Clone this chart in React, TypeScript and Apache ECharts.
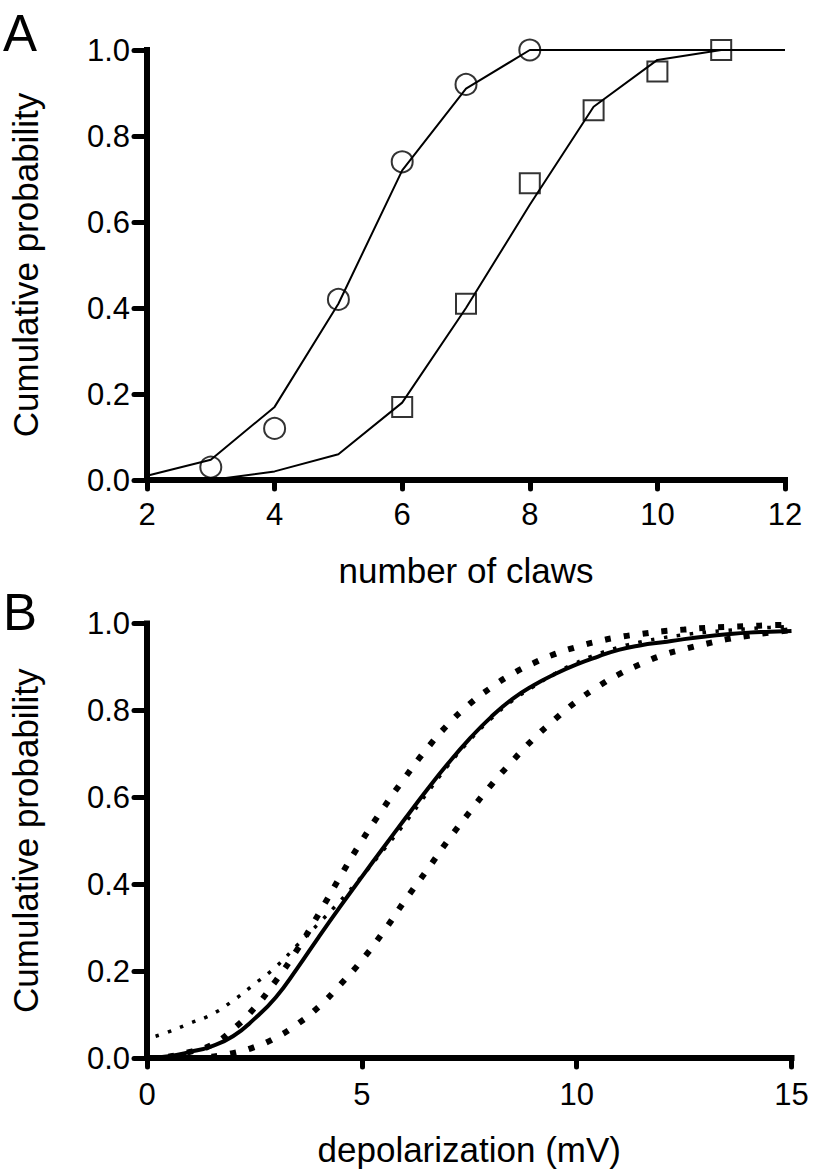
import React, { useEffect, useRef } from "react";
import * as echarts from "echarts";

// ---------- Panel A data ----------
const clawTicks = [2, 4, 6, 8, 10, 12];
const circleX = [3, 4, 5, 6, 7, 8];
const circleY = [0.03, 0.12, 0.42, 0.74, 0.92, 1.0];
const squareX = [6, 7, 8, 9, 10, 11];
const squareY = [0.17, 0.41, 0.69, 0.86, 0.95, 1.0];
const circleFitX = [2, 3, 4, 5, 6, 7, 8, 9, 10, 11, 12];
const circleFitY = [0.01, 0.047, 0.17, 0.41, 0.72, 0.91, 1.0, 1.0, 1.0, 1.0, 1.0];
const squareFitX = [3, 4, 5, 6, 7, 8, 9, 10, 11, 12];
const squareFitY = [0.0, 0.02, 0.06, 0.18, 0.4, 0.64, 0.868, 0.977, 1.0, 1.0];

// ---------- Panel B data (read every 0.5 mV) ----------
const solidX = [0, 0.5, 1, 1.5, 2, 2.5, 3, 3.5, 4, 4.5, 5, 5.5, 6, 6.5, 7, 7.5, 8, 8.5, 9, 9.5, 10, 10.5, 11, 11.5, 12, 12.5, 13, 13.5, 14, 14.5, 15];
const solidY = [0.0, 0.004, 0.014, 0.027, 0.05, 0.09, 0.14, 0.207, 0.279, 0.349, 0.417, 0.484, 0.55, 0.615, 0.677, 0.734, 0.784, 0.826, 0.858, 0.884, 0.906, 0.924, 0.94, 0.95, 0.957, 0.964, 0.97, 0.975, 0.979, 0.981, 0.983];
const fineX = [0.2, 0.5, 1, 1.5, 2, 2.5, 3, 3.5, 4, 4.5, 5, 5.5, 6, 6.5, 7, 7.5, 8, 8.5, 9, 9.5, 10, 10.5, 11, 11.5, 12, 12.5, 13, 13.5, 14, 14.5, 15];
const fineY = [0.05, 0.06, 0.08, 0.1, 0.132, 0.17, 0.21, 0.26, 0.31, 0.362, 0.418, 0.478, 0.54, 0.607, 0.672, 0.73, 0.78, 0.822, 0.855, 0.885, 0.91, 0.93, 0.946, 0.958, 0.967, 0.974, 0.98, 0.984, 0.988, 0.991, 0.993];
const upperX = [0.5, 1, 1.5, 2, 2.5, 3, 3.5, 4, 4.5, 5, 5.5, 6, 6.5, 7, 7.5, 8, 8.5, 9, 9.5, 10, 10.5, 11, 11.5, 12, 12.5, 13, 13.5, 14, 14.5, 15];
const upperY = [0.003, 0.014, 0.03, 0.066, 0.115, 0.178, 0.25, 0.332, 0.418, 0.5, 0.575, 0.645, 0.71, 0.767, 0.814, 0.852, 0.884, 0.909, 0.93, 0.946, 0.959, 0.969, 0.976, 0.982, 0.986, 0.99, 0.992, 0.994, 0.996, 0.997];
const lowerX = [1.5, 2, 2.5, 3, 3.5, 4, 4.5, 5, 5.5, 6, 6.5, 7, 7.5, 8, 8.5, 9, 9.5, 10, 10.5, 11, 11.5, 12, 12.5, 13, 13.5, 14, 14.5, 15];
const lowerY = [0.003, 0.011, 0.025, 0.047, 0.078, 0.118, 0.169, 0.225, 0.29, 0.362, 0.43, 0.5, 0.565, 0.627, 0.683, 0.735, 0.78, 0.821, 0.855, 0.884, 0.907, 0.927, 0.941, 0.953, 0.964, 0.972, 0.979, 0.985];

const probTicks = [0, 0.2, 0.4, 0.6, 0.8, 1.0];

const FONT = "'Liberation Sans', Arial, Helvetica, sans-serif";

const pairs = (xs: number[], ys: number[]) => xs.map((x, i) => [x, ys[i]]);

function axisBase() {
  return {
    axisLine: { show: true, onZero: false, lineStyle: { color: "#000", width: 6, cap: "square" } },
    splitLine: { show: false },
  };
}

export default function App() {
  const ref = useRef<HTMLDivElement>(null);
  useEffect(() => {
    if (!ref.current) return;
    const chart = echarts.init(ref.current, undefined, { renderer: "svg" });
    const curve = (xs: number[], ys: number[], lineStyle: any) => ({
      type: "line",
      xAxisIndex: 1,
      yAxisIndex: 1,
      data: pairs(xs, ys),
      smooth: true,
      showSymbol: false,
      lineStyle,
      silent: true,
    });
    const option: any = {
      animation: false,
      textStyle: { fontFamily: FONT, color: "#000" },
      grid: [
        { left: 142.5, top: 50, width: 642.5, height: 430 },
        { left: 142.5, top: 623.5, width: 649, height: 434.5 },
      ],
      xAxis: [
        {
          ...axisBase(),
          type: "value",
          gridIndex: 0,
          min: clawTicks[0],
          max: clawTicks[clawTicks.length - 1],
          interval: 2,
          axisTick: { show: true, length: 9, lineStyle: { color: "#000", width: 5, cap: "round" } },
          axisLabel: { fontSize: 31, color: "#000", margin: 19, fontFamily: FONT },
          name: "number of claws",
          nameLocation: "middle",
          nameGap: 73,
          nameTextStyle: { fontSize: 35, color: "#000", fontFamily: FONT },
        },
        {
          ...axisBase(),
          type: "value",
          gridIndex: 1,
          min: 0,
          max: 15,
          interval: 5,
          axisTick: { show: true, length: 9, lineStyle: { color: "#000", width: 5, cap: "round" } },
          axisLabel: { fontSize: 31, color: "#000", margin: 21, fontFamily: FONT },
          name: "depolarization (mV)",
          nameLocation: "middle",
          nameGap: 74,
          nameTextStyle: { fontSize: 35, color: "#000", fontFamily: FONT },
        },
      ],
      yAxis: [0, 1].map((gi) => ({
        ...axisBase(),
        type: "value",
        gridIndex: gi,
        min: probTicks[0],
        max: probTicks[probTicks.length - 1],
        interval: 0.2,
        axisTick: { show: true, length: 13, lineStyle: { color: "#000", width: 5, cap: "round" } },
        axisLabel: {
          fontSize: 31,
          color: "#000",
          margin: 17,
          fontFamily: FONT,
          formatter: (v: number) => v.toFixed(1),
        },
        name: "Cumulative probability",
        nameLocation: "middle",
        nameGap: 104,
        nameTextStyle: { fontSize: 35, color: "#000", fontFamily: FONT },
      })),
      graphic: [
        { type: "text", left: 3, top: 8, style: { text: "A", font: `51px ${FONT}`, fill: "#000" } },
        { type: "text", left: 3, top: 587, style: { text: "B", font: `51px ${FONT}`, fill: "#000" } },
      ],
      series: [
        {
          type: "line",
          xAxisIndex: 0,
          yAxisIndex: 0,
          data: pairs(circleFitX, circleFitY),
          showSymbol: false,
          lineStyle: { color: "#000", width: 2 },
          silent: true,
        },
        {
          type: "line",
          xAxisIndex: 0,
          yAxisIndex: 0,
          data: pairs(squareFitX, squareFitY),
          showSymbol: false,
          lineStyle: { color: "#000", width: 2 },
          silent: true,
        },
        {
          type: "scatter",
          xAxisIndex: 0,
          yAxisIndex: 0,
          data: pairs(circleX, circleY),
          symbol: "circle",
          symbolSize: 21,
          itemStyle: { color: "rgba(0,0,0,0)", borderColor: "#000", borderWidth: 2 },
          silent: true,
        },
        {
          type: "scatter",
          xAxisIndex: 0,
          yAxisIndex: 0,
          data: pairs(squareX, squareY),
          symbol: "rect",
          symbolSize: 20,
          itemStyle: { color: "rgba(0,0,0,0)", borderColor: "#000", borderWidth: 2 },
          silent: true,
        },
        curve(solidX, solidY, { color: "#000", width: 4 }),
        curve(fineX, fineY, { color: "#000", width: 3.5, type: [3.5, 9.5], cap: "butt" }),
        curve(upperX, upperY, { color: "#000", width: 6, type: [6, 13], cap: "butt" }),
        curve(lowerX, lowerY, { color: "#000", width: 6, type: [6, 13], cap: "butt" }),
      ],
    };
    chart.setOption(option);
    return () => chart.dispose();
  }, []);
  return (
    <div
      ref={ref}
      style={{ position: "absolute", left: 0, top: 0, width: 814, height: 1174, background: "#fff" }}
    />
  );
}
